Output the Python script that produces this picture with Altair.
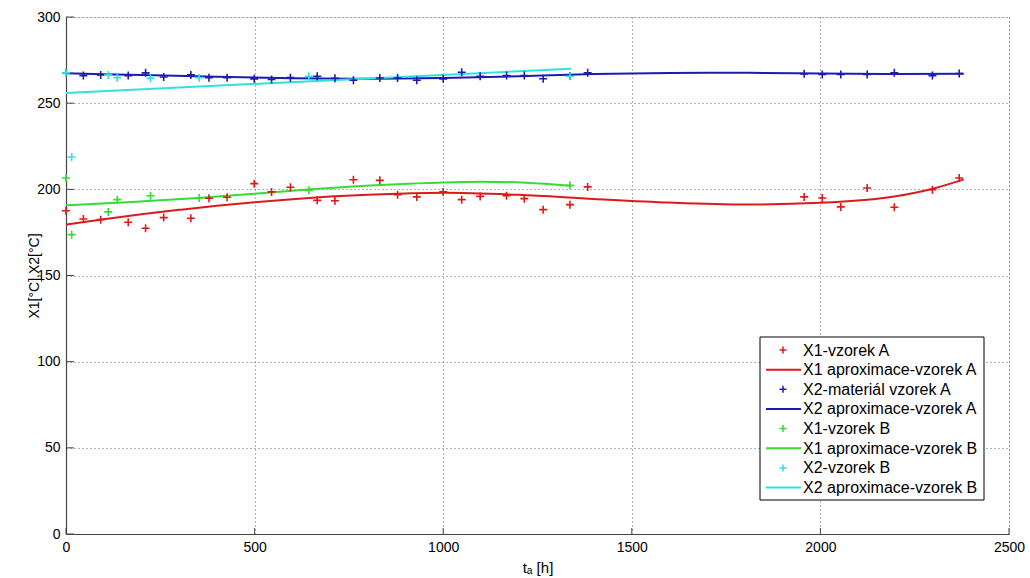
import altair as alt
import pandas as pd

# ---- data ----
t_A = [0, 46, 92, 165, 211, 259, 331, 379, 427, 499, 545, 595, 666, 713, 762, 832, 879,
       930, 1000, 1049, 1098, 1168, 1215, 1265, 1336, 1383, 1957, 2005, 2054, 2124, 2196,
       2297, 2368]
x1_A = [187.6, 182.8, 182.4, 180.9, 177.4, 183.6, 183.2, 194.8, 195.4, 203.3, 198.5, 201.2,
        193.6, 193.4, 205.6, 205.2, 196.9, 195.6, 198.5, 194.0, 195.9, 196.3, 194.6, 188.2,
        191.1, 201.4, 195.6, 195.0, 189.8, 200.8, 189.6, 199.8, 206.6]
x2_A = [267.6, 266.0, 266.4, 266.0, 267.6, 265.2, 266.4, 264.8, 264.8, 264.1, 263.7, 264.8,
        265.6, 264.4, 263.3, 264.6, 264.6, 263.3, 264.1, 267.9, 265.6, 266.0, 266.0, 264.2,
        265.8, 267.6, 267.0, 266.6, 266.6, 266.6, 267.6, 266.0, 267.2]
t_B = [0, 15, 112, 136, 224, 353, 644, 1336]
x1_B = [206.6, 173.7, 186.9, 194.0, 196.3, 195.0, 199.4, 202.3]
x2_B = [267.6, 218.8, 266.4, 264.8, 264.4, 264.8, 265.6, 265.6]

fit_x1A_t = [0, 100, 200, 300, 400, 500, 600, 700, 800, 900, 1000, 1200, 1400, 1600, 1800,
             2000, 2200, 2300, 2380]
fit_x1A = [179.5, 182.6, 185.5, 188.1, 190.5, 192.5, 194.3, 195.8, 196.9, 197.6, 198.0,
           196.8, 194.4, 192.3, 191.2, 192.2, 196.0, 200.5, 205.8]
fit_x2A_t = [0, 200, 400, 600, 800, 1000, 1200, 1400, 1600, 1800, 2000, 2200, 2380]
fit_x2A = [267.3, 266.3, 265.3, 264.5, 264.2, 264.6, 265.6, 266.9, 267.5, 267.6, 267.2,
           266.9, 267.0]
fit_x1B_t = [0, 200, 350, 500, 660, 850, 1000, 1100, 1220, 1340]
fit_x1B = [190.7, 193.0, 195.0, 197.5, 200.2, 202.7, 204.0, 204.4, 203.8, 202.0]
fit_x2B_t = [0, 1340]
fit_x2B = [255.9, 270.0]

x_ticks = [0, 500, 1000, 1500, 2000, 2500]
y_ticks = [0, 50, 100, 150, 200, 250, 300]

labels = ["X1-vzorek A", "X1 aproximace-vzorek A", "X2-materiál vzorek A",
          "X2 aproximace-vzorek A", "X1-vzorek B", "X1 aproximace-vzorek B",
          "X2-vzorek B", "X2 aproximace-vzorek B"]
RED, BLUE, GREEN, CYAN = "#dd1a1a", "#1c1cb0", "#33dd33", "#33e0e0"
label_colors = [RED, RED, BLUE, BLUE, GREEN, GREEN, CYAN, CYAN]
is_marker = [True, False, True, False, True, False, True, False]

# ---- tables ----
pts = pd.concat([
    pd.DataFrame({"t": t_A, "v": x1_A, "s": labels[0]}),
    pd.DataFrame({"t": t_A, "v": x2_A, "s": labels[2]}),
    pd.DataFrame({"t": t_B, "v": x1_B, "s": labels[4]}),
    pd.DataFrame({"t": t_B, "v": x2_B, "s": labels[6]}),
])
lines = pd.concat([
    pd.DataFrame({"t": fit_x1A_t, "v": fit_x1A, "s": labels[1]}),
    pd.DataFrame({"t": fit_x2A_t, "v": fit_x2A, "s": labels[3]}),
    pd.DataFrame({"t": fit_x1B_t, "v": fit_x1B, "s": labels[5]}),
    pd.DataFrame({"t": fit_x2B_t, "v": fit_x2B, "s": labels[7]}),
])

W, H = 943, 517
FONT = "Liberation Sans Narrow, Liberation Sans, Arial, sans-serif"
PLUS = "M-1,0H1M0,-1V1"

xs = alt.Scale(domain=[0, 2500], nice=False, zero=False)
ys = alt.Scale(domain=[0, 300], nice=False, zero=False)
cs = alt.Scale(domain=labels, range=label_colors)

x_axis = alt.Axis(values=x_ticks, format="d", grid=True, gridDash=[1, 3], gridColor="#666",
                  gridWidth=1, domainColor="#444", domainWidth=1.2, tickSize=0,
                  labelFont=FONT, labelFontSize=14, labelColor="black", labelPadding=6,
                  labelFlush=False, title="tₐ [h]", titleFont="Liberation Sans",
                  titleFontSize=15, titleFontWeight="normal", titleColor="black",
                  titleY=33, titleBaseline="middle")
y_axis = alt.Axis(values=y_ticks, format="d", grid=True, gridDash=[1, 3], gridColor="#666",
                  gridWidth=1, domainColor="#444", domainWidth=1.2, tickSize=0,
                  labelFont=FONT, labelFontSize=14, labelColor="black", labelPadding=6,
                  labelFlush=False, title="X1[°C],X2[°C]", titleFont="Liberation Sans",
                  titleFontSize=14, titleFontWeight="normal", titleColor="black",
                  titleX=-32, titleY=H / 2, titleAngle=270, titleAlign="center",
                  titleBaseline="middle")

line_layer = alt.Chart(lines).mark_line(strokeWidth=2, interpolate="monotone").encode(
    x=alt.X("t:Q", scale=xs, axis=x_axis),
    y=alt.Y("v:Q", scale=ys, axis=y_axis),
    color=alt.Color("s:N", scale=cs, legend=None),
    detail="s:N",
)
pt_layer = alt.Chart(pts).mark_point(shape=PLUS, size=64, filled=False, strokeWidth=1.6,
                                     opacity=1).encode(
    x=alt.X("t:Q", scale=xs),
    y=alt.Y("v:Q", scale=ys),
    color=alt.Color("s:N", scale=cs, legend=None),
)

xt = alt.Chart(pd.DataFrame({"v": x_ticks})).mark_rule(color="#444", strokeWidth=1).encode(
    x=alt.X("v:Q", scale=xs), y=alt.value(H), y2=alt.value(H - 6))
yt = alt.Chart(pd.DataFrame({"v": y_ticks})).mark_rule(color="#444", strokeWidth=1).encode(
    y=alt.Y("v:Q", scale=ys), x=alt.value(0), x2=alt.value(8))

one = pd.DataFrame({"k": [0]})
LX0, LX1, LY0, LY1 = 694, 918, 320, 483
legend_layers = [
    alt.Chart(one).mark_rect(fill="white", stroke="black", strokeWidth=1).encode(
        x=alt.value(LX0), x2=alt.value(LX1), y=alt.value(LY0), y2=alt.value(LY1))
]
row0, step = 333, 19.65
for i, lab in enumerate(labels):
    yy = row0 + i * step
    c = label_colors[i]
    if is_marker[i]:
        legend_layers.append(alt.Chart(one).mark_point(
            shape=PLUS, size=49, filled=False, strokeWidth=1.5, color=c, opacity=1).encode(
            x=alt.value(717), y=alt.value(yy)))
    else:
        legend_layers.append(alt.Chart(one).mark_rule(color=c, strokeWidth=2).encode(
            x=alt.value(700), x2=alt.value(735), y=alt.value(yy)))
    legend_layers.append(alt.Chart(one).mark_text(
        align="left", baseline="middle", font="Liberation Sans", fontSize=16,
        color="black").encode(x=alt.value(737), y=alt.value(yy + 0.5),
                              text=alt.value(lab)))

chart = alt.layer(line_layer, pt_layer, xt, yt, *legend_layers).properties(
    width=W, height=H,
    autosize=alt.AutoSizeParams(type="none"),
    padding={"left": 66, "top": 17, "right": 21, "bottom": 44},
).configure_view(stroke=None).configure(background="white")

chart.save("out.html", embed_options={"renderer": "svg", "actions": False})
